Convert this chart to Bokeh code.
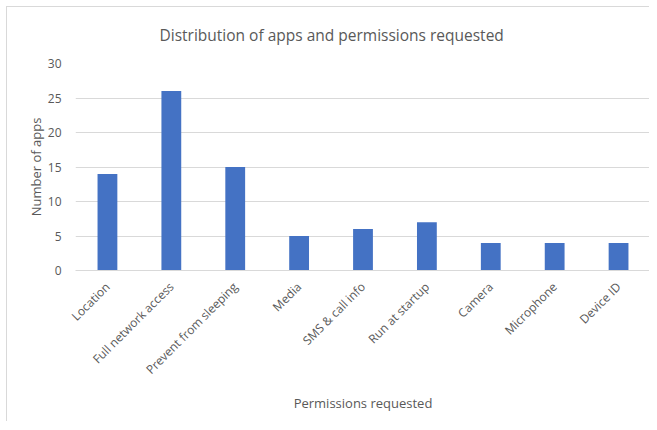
import math
from bokeh.plotting import figure
from bokeh.models import ColumnDataSource, FixedTicker, Range1d
from bokeh.embed import file_html
from bokeh.resources import INLINE

categories = ["Location", "Full network access", "Prevent from sleeping", "Media",
              "SMS & call info", "Run at startup", "Camera", "Microphone", "Device ID"]
counts = [14, 26, 15, 5, 6, 7, 4, 4, 4]
y_ticks = [0, 5, 10, 15, 20, 25, 30]

FONT = "Open Sans"
TXT = "#595959"
GRID = "#d9d9d9"

src = ColumnDataSource(dict(cat=categories, n=counts))

p = figure(x_range=categories, y_range=Range1d(0, 30), width=643, height=415,
           output_backend="svg", toolbar_location=None,
           min_border_left=68, min_border_right=0, min_border_top=56, min_border_bottom=152,
           title="Distribution of apps and permissions requested")
p.styles = {"margin-left": "6px", "margin-top": "6px",
            "border-left": "1px solid #d9d9d9", "border-top": "1px solid #d9d9d9"}

p.vbar(x="cat", top="n", width=0.31, source=src, color="#4472C4", line_color=None)

p.title.text_font = FONT
p.title.text_font_size = "15.5px"
p.title.text_font_style = "normal"
p.title.text_color = TXT
p.title.align = "left"
p.title.vertical_align = "top"
p.title.offset = 84
p.title.standoff = 31

p.outline_line_color = None
p.background_fill_color = "white"
p.border_fill_color = "white"

p.xgrid.grid_line_color = None
p.ygrid.grid_line_color = GRID
p.ygrid.grid_line_width = 1

p.yaxis.ticker = FixedTicker(ticks=y_ticks)
p.yaxis.axis_line_color = None
p.yaxis.major_tick_line_color = None
p.yaxis.minor_tick_line_color = None
p.yaxis.major_label_text_font = FONT
p.yaxis.major_label_text_font_size = "12px"
p.yaxis.major_label_text_color = TXT
p.yaxis.major_label_standoff = 8
p.yaxis.axis_label = "Number of apps"
p.yaxis.axis_label_text_font = FONT
p.yaxis.axis_label_text_font_size = "13px"
p.yaxis.axis_label_text_font_style = "normal"
p.yaxis.axis_label_text_color = TXT
p.yaxis.axis_label_standoff = 0

p.xaxis.axis_line_color = GRID
p.xaxis.major_tick_line_color = None
p.xaxis.minor_tick_line_color = None
p.xaxis.major_label_orientation = math.pi / 4
p.xaxis.major_label_text_font = FONT
p.xaxis.major_label_text_font_size = "12px"
p.xaxis.major_label_text_color = TXT
p.xaxis.major_label_standoff = 8
p.xaxis.axis_label = "Permissions requested"
p.xaxis.axis_label_text_font = FONT
p.xaxis.axis_label_text_font_size = "13px"
p.xaxis.axis_label_text_font_style = "normal"
p.xaxis.axis_label_text_color = TXT
p.xaxis.axis_label_standoff = 7

open("out.html", "w").write(file_html(p, INLINE))
